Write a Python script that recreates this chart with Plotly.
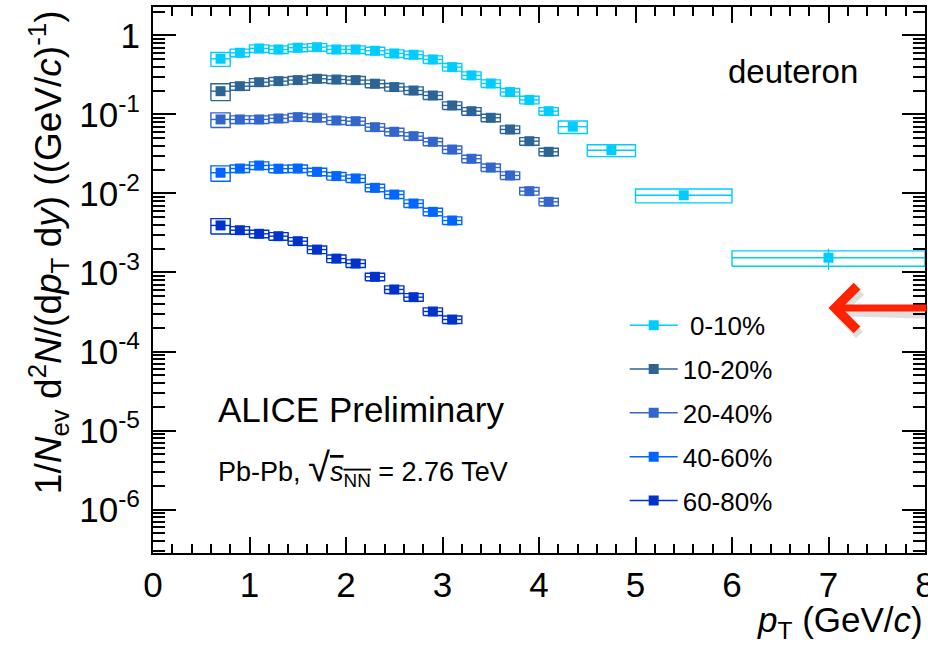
import plotly.graph_objects as go

# Deuteron pT spectra in Pb-Pb collisions, by centrality class
centrality = ["\u00a00-10%", "10-20%", "20-40%", "40-60%", "60-80%"]
colors = ["#00CCFF", "#2C6496", "#3366CC", "#0066FF", "#0033CC"]

# bin centres and half widths (GeV/c)
pt_0_10 = [0.7, 0.9, 1.1, 1.3, 1.5, 1.7, 1.9, 2.1, 2.3, 2.5, 2.7, 2.9, 3.1, 3.3,
           3.5, 3.7, 3.9, 4.1, 4.35, 4.75, 5.5, 7.0]
hw_0_10 = [0.1, 0.1, 0.1, 0.1, 0.1, 0.1, 0.1, 0.1, 0.1, 0.1, 0.1, 0.1, 0.1, 0.1,
           0.1, 0.1, 0.1, 0.1, 0.15, 0.25, 0.5, 1.0]
pt_mid = [0.7, 0.9, 1.1, 1.3, 1.5, 1.7, 1.9, 2.1, 2.3, 2.5, 2.7, 2.9, 3.1, 3.3,
          3.5, 3.7, 3.9, 4.1]
hw_mid = [0.1, 0.1, 0.1, 0.1, 0.1, 0.1, 0.1, 0.1, 0.1, 0.1, 0.1, 0.1, 0.1, 0.1,
          0.1, 0.1, 0.1, 0.1]
pt_per = [0.7, 0.9, 1.1, 1.3, 1.5, 1.7, 1.9, 2.1, 2.3, 2.5, 2.7, 2.9, 3.1]
hw_per = [0.1, 0.1, 0.1, 0.1, 0.1, 0.1, 0.1, 0.1, 0.1, 0.1, 0.1, 0.1, 0.1]

# yields 1/Nev d2N/(dpT dy)
y_0_10 = [0.507, 0.604, 0.685, 0.665, 0.700, 0.710, 0.665, 0.665, 0.640, 0.592,
          0.570, 0.497, 0.397, 0.312, 0.247, 0.192, 0.153, 0.110, 0.070, 0.0353,
          0.0095, 0.00154]
y_10_20 = [0.197, 0.228, 0.256, 0.264, 0.272, 0.283, 0.277, 0.272, 0.245, 0.222,
           0.201, 0.174, 0.130, 0.110, 0.0908, 0.0646, 0.0459, 0.0337]
y_20_40 = [0.0865, 0.0865, 0.0865, 0.089, 0.0925, 0.091, 0.084, 0.0822, 0.069,
           0.0604, 0.0531, 0.0451, 0.0360, 0.0275, 0.0213, 0.0169, 0.0107, 0.00785]
y_40_60 = [0.0183, 0.0207, 0.0226, 0.0206, 0.0207, 0.0188, 0.0166, 0.0155, 0.0118,
           0.0097, 0.00747, 0.00586, 0.00455]
y_60_80 = [0.00394, 0.00343, 0.00309, 0.00288, 0.00249, 0.00195, 0.00150, 0.00130,
           0.000882, 0.000610, 0.000487, 0.000321, 0.000254]

# relative statistical uncertainties
stat_0_10 = [0.02, 0.02, 0.02, 0.02, 0.02, 0.02, 0.02, 0.02, 0.02, 0.02, 0.02, 0.02,
             0.02, 0.02, 0.03, 0.03, 0.03, 0.04, 0.05, 0.07, 0.12, 0.30]
stat_10_20 = [0.02, 0.02, 0.02, 0.02, 0.02, 0.02, 0.02, 0.02, 0.02, 0.02, 0.02, 0.02,
              0.03, 0.03, 0.03, 0.04, 0.04, 0.05]
stat_20_40 = [0.02, 0.02, 0.02, 0.02, 0.02, 0.02, 0.02, 0.02, 0.02, 0.02, 0.02, 0.02,
              0.03, 0.03, 0.03, 0.04, 0.04, 0.05]
stat_40_60 = [0.02, 0.02, 0.02, 0.02, 0.02, 0.02, 0.02, 0.03, 0.03, 0.03, 0.04, 0.04,
              0.05]
stat_60_80 = [0.03, 0.03, 0.03, 0.03, 0.03, 0.03, 0.03, 0.04, 0.04, 0.05, 0.05, 0.06,
              0.07]

# relative systematic uncertainties (boxes)
sys_0_10 = [0.20, 0.11, 0.11, 0.11, 0.11, 0.11, 0.11, 0.11, 0.11, 0.11, 0.11, 0.11,
            0.11, 0.11, 0.11, 0.11, 0.11, 0.11, 0.18, 0.17, 0.20, 0.22]
sys_10_20 = [0.24, 0.11, 0.11, 0.11, 0.11, 0.11, 0.11, 0.11, 0.11, 0.11, 0.11, 0.11,
             0.11, 0.11, 0.11, 0.11, 0.11, 0.11]
sys_20_40 = [0.21, 0.11, 0.11, 0.11, 0.11, 0.11, 0.11, 0.11, 0.11, 0.11, 0.11, 0.11,
             0.11, 0.11, 0.11, 0.11, 0.11, 0.11]
sys_40_60 = [0.22, 0.11, 0.11, 0.11, 0.11, 0.11, 0.11, 0.11, 0.11, 0.11, 0.11, 0.11,
             0.11]
sys_60_80 = [0.22, 0.11, 0.11, 0.11, 0.11, 0.11, 0.11, 0.11, 0.11, 0.11, 0.11, 0.11,
             0.11]

series = [
    (pt_0_10, hw_0_10, y_0_10, stat_0_10, sys_0_10),
    (pt_mid, hw_mid, y_10_20, stat_10_20, sys_10_20),
    (pt_mid, hw_mid, y_20_40, stat_20_40, sys_20_40),
    (pt_per, hw_per, y_40_60, stat_40_60, sys_40_60),
    (pt_per, hw_per, y_60_80, stat_60_80, sys_60_80),
]

FONT = "Liberation Sans, Arial, Helvetica, sans-serif"


def sys_boxes(x, hw, y, rel):
    bx, by = [], []
    for xi, wi, yi, ri in zip(x, hw, y, rel):
        lo, hi = yi * (1 - ri), yi * (1 + ri)
        bx += [xi - wi, xi + wi, xi + wi, xi - wi, xi - wi, None]
        by += [lo, lo, hi, hi, lo, None]
    return bx, by


fig = go.Figure()

for name, col, (x, hw, y, st, sy) in zip(centrality, colors, series):
    bx, by = sys_boxes(x, hw, y, sy)
    fig.add_trace(go.Scatter(
        x=bx, y=by, mode="lines", line=dict(color=col, width=1.4),
        hoverinfo="skip", showlegend=False))
    fig.add_trace(go.Scatter(
        x=x, y=y, mode="markers", name=name, showlegend=False,
        marker=dict(symbol="square", size=10, color=col, line=dict(width=0)),
        error_x=dict(type="data", array=hw, color=col, thickness=1.4, width=0),
        error_y=dict(type="data", array=[v * s for v, s in zip(y, st)],
                     color=col, thickness=1.4, width=0)))

# legend entries
for i, (name, col) in enumerate(zip(centrality, colors)):
    fig.add_trace(go.Scatter(
        x=[None], y=[None], mode="lines+markers", name=name,
        legendgroup=f"g{i}",
        line=dict(color=col, width=1.5),
        marker=dict(symbol="square", size=10, color=col)))

axis_common = dict(
    showline=True, linecolor="black", linewidth=2, mirror="ticks",
    ticks="inside", tickcolor="black", tickwidth=2,
    showgrid=False, zeroline=False, ticklabeloverflow="allow", automargin=False,
    tickfont=dict(family=FONT, size=35, color="black"),
)

fig.update_xaxes(
    range=[0, 8], tick0=0, dtick=1, ticklen=16,
    minor=dict(ticks="inside", dtick=0.2, ticklen=9, tickwidth=2, tickcolor="black"),
    **axis_common)

fig.update_yaxes(
    type="log", range=[-6.55, 0.36], ticklen=23,
    tickvals=[1e-6, 1e-5, 1e-4, 1e-3, 1e-2, 1e-1, 1],
    ticktext=["10<sup>-6</sup>", "10<sup>-5</sup>", "10<sup>-4</sup>",
              "10<sup>-3</sup>", "10<sup>-2</sup>", "10<sup>-1</sup>", "1"],
    minor=dict(ticks="inside", dtick="D1", ticklen=12, tickwidth=2, tickcolor="black"),
    ticklabelstandoff=4,
    **axis_common)

annotations = [
    dict(text="deuteron", x=0.829, y=0.881, xref="paper", yref="paper",
         xanchor="center", yanchor="middle", showarrow=False,
         font=dict(family=FONT, size=33, color="black")),
    dict(text="ALICE Preliminary", x=0.082, y=0.262, xref="paper", yref="paper",
         xanchor="left", yanchor="middle", showarrow=False,
         font=dict(family=FONT, size=35, color="black")),
    dict(text="Pb-Pb, <span style='font-size:40px'>\u221a</span>"
              "<span style='text-decoration:overline'><i>s</i><sub>NN</sub></span>"
              " = 2.76 TeV",
         x=0.082, y=0.155, xref="paper", yref="paper",
         xanchor="left", yanchor="middle", showarrow=False,
         font=dict(family=FONT, size=27, color="black")),
    dict(text="<i>p</i><sub>T</sub> (GeV/<i>c</i>)", x=1.0, y=-0.126,
         xref="paper", yref="paper", xanchor="right", yanchor="middle",
         showarrow=False, font=dict(family=FONT, size=35, color="black")),
    dict(text="1/<i>N</i><sub>ev</sub> d<sup>2</sup><i>N</i>/(d<i>p</i><sub>T</sub> d<i>y</i>)"
              " ((GeV/<i>c</i>)<sup>-1</sup>)",
         x=-0.136, y=0.551, xref="paper", yref="paper", textangle=-90,
         xanchor="center", yanchor="middle",
         showarrow=False, font=dict(family=FONT, size=37, color="black")),
    # red arrow with soft shadow
    dict(text="", x=0.879, y=0.441, xref="paper", yref="paper",
         ax=100, ay=3, showarrow=True, arrowhead=4, arrowsize=1.2, arrowwidth=7,
         arrowcolor="rgba(0,0,0,0.12)"),
    dict(text="", x=0.875, y=0.4487, xref="paper", yref="paper",
         ax=100, ay=0, showarrow=True, arrowhead=4, arrowsize=1.2, arrowwidth=7,
         arrowcolor="#FF2200"),
]

fig.update_layout(
    width=928, height=646, autosize=False,
    margin=dict(l=153, r=3, t=7, b=93),
    paper_bgcolor="white", plot_bgcolor="white",
    annotations=annotations,
    showlegend=True,
    legend=dict(x=0.611, y=0.46, xanchor="left", yanchor="top",
                bgcolor="rgba(0,0,0,0)", tracegroupgap=7, itemwidth=48,
                font=dict(family=FONT, size=26, color="black")),
)

fig.write_html("out.html")
